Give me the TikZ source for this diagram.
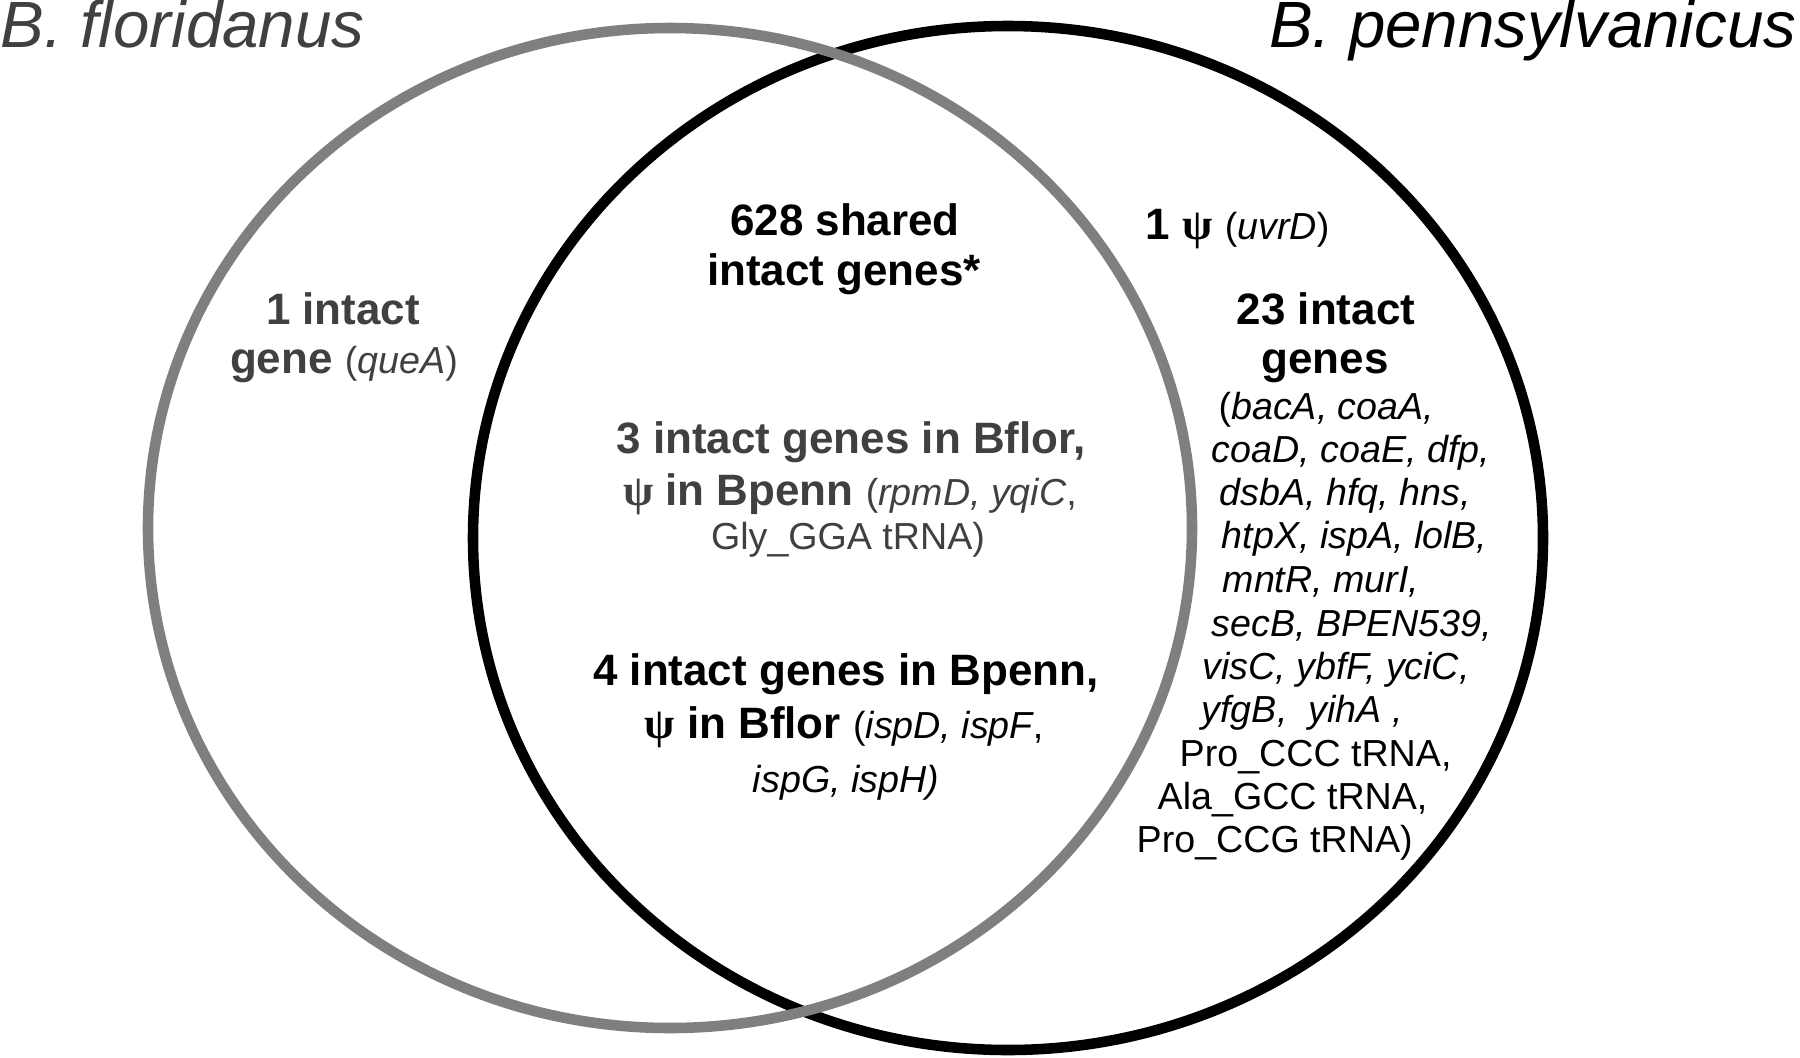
\documentclass[tikz,border=0pt]{standalone}
\usepackage{fontspec}
\setmainfont{Liberation Sans}
\newfontfamily\psifont{Liberation Serif}
\usetikzlibrary{positioning}
\definecolor{florline}{HTML}{7F7F7F}
\definecolor{flortext}{HTML}{404040}

\newcommand{\pseudo}{{\psifont\bfseries ψ}}
\newcommand{\genesize}{\fontsize{10.7}{12.2}\selectfont\mdseries}

\tikzset{
  species/.style={font=\fontsize{18.6}{20}\selectfont\itshape, inner sep=0pt},
  count/.style={font=\fontsize{12.5}{15}\selectfont\bfseries, inner sep=0pt, anchor=base},
  genelist/.style={font=\genesize\itshape, inner sep=0pt, anchor=base west},
}

\begin{document}
\begin{tikzpicture}[x=0.01cm, y=-0.01cm]
  \useasboundingbox (0,0) rectangle (1800,1057);

  % Circles
  \draw[line width=3pt] (1008,538) ellipse [x radius=535, y radius=512];
  \draw[florline, line width=3pt] (670,528) ellipse [x radius=522, y radius=500];

  % Species names
  \node[species, anchor=base west, text=flortext] (bflor) at (0,47) {B. floridanus};
  \node[species, anchor=base east] (bpenn) at (1797,47) {B. pennsylvanicus};

  % B. floridanus only
  \node[count, text=flortext] (flor1) at (343,324) {1 intact};
  \node[count, text=flortext] (flor2) at (344,373) {gene \genesize(\textit{queA})};

  % Shared
  \node[count] (shared1) at (845,235) {628 shared};
  \node[count] (shared2) at (844,285) {intact genes*};

  \node[count, text=flortext] (inflor1) at (851,453) {3 intact genes in Bflor,};
  \node[count, text=flortext] (inflor2) at (850,505) {\pseudo{} in Bpenn \genesize(\textit{rpmD, yqiC},};
  \node[count, text=flortext] (inflor3) at (848,549) {\genesize Gly\_GGA tRNA)};

  \node[count] (inpenn1) at (846,685) {4 intact genes in Bpenn,};
  \node[count] (inpenn2) at (844,738) {\pseudo{} in Bflor \genesize(\textit{ispD, ispF},};
  \node[count] (inpenn3) at (846,792) {\genesize\itshape ispG, ispH)};

  % B. pennsylvanicus only
  \node[count, anchor=base west] (penpsi) at (1145,239) {1 \pseudo{} \genesize(\textit{uvrD})};
  \node[count] (penn1) at (1326,324) {23 intact};
  \node[count] (penn2) at (1325,373) {genes};

  \node[genelist] (list1) at (1218,419) {\upshape(\itshape bacA, coaA,};
  \node[genelist] (list2) at (1211,462) {coaD, coaE, dfp,};
  \node[genelist] (list3) at (1219,505) {dsbA, hfq, hns,};
  \node[genelist] (list4) at (1221,548) {htpX, ispA, lolB,};
  \node[genelist] (list5) at (1222,592) {mntR, murI,};
  \node[genelist] (list6) at (1211,636) {secB, BPEN539,};
  \node[genelist] (list7) at (1202,679) {visC, ybfF, yciC,};
  \node[genelist] (list8) at (1201,722) {yfgB,\ \ yihA\ ,};
  \node[genelist, font=\genesize] (list9) at (1179,766) {Pro\_CCC tRNA,};
  \node[genelist, font=\genesize] (list10) at (1157,809) {Ala\_GCC tRNA,};
  \node[genelist, font=\genesize] (list11) at (1136,852) {Pro\_CCG tRNA)};

\end{tikzpicture}
\end{document}
